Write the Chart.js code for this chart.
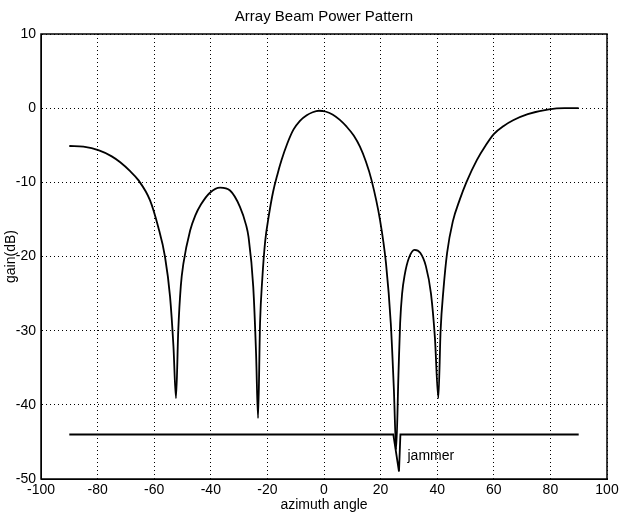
<!DOCTYPE html>
<html>
<head>
<meta charset="utf-8">
<script src="https://cdn.jsdelivr.net/npm/chart.js@4.4.0/dist/chart.umd.min.js"></script>
<style>
  html, body { margin: 0; padding: 0; background: #fff; }
  #wrap { width: 624px; height: 517px; }
</style>
</head>
<body>
<div id="wrap"><canvas id="chart-line"></canvas></div>
<script>
// azimuth angle (deg) and gain (dB)
const angles = [
  -90, -85, -79.5, -75, -72, -68.5, -65.6, -61.5, -58.6, -56.2, -54.4, -53.2, -52.3,
  -51.5, -50.6, -49.7, -47.3, -45.5, -43.5, -40.3, -36.7, -33.2, -29.7, -27.5, -26.7,
  -25.0, -24.0, -23.3, -22.6, -21.8, -20.8, -19.5, -18.0, -16.5, -15, -13, -10.8,
  -8.5, -6.1, -4, -1.8, 0.5, 3, 5.5, 8.0, 10.5, 12.7, 14.8, 16.8, 19.8, 21.9, 23.6, 24.7, 25.5,
  26.3, 26.9, 27.6, 28.5, 30, 32, 34, 36, 37.8, 39.2, 40.4, 41.2, 42.2, 43.5, 45.5,
  48, 50.3, 54, 57, 60, 63.5, 67, 72, 79.5, 85, 90,
];
const gains = [
  -5.1, -5.2, -5.7, -6.5, -7.3, -8.5, -9.7, -12.4, -16.0, -20.0, -25.4, -32.1, -39.1,
  -30, -24, -21, -16.5, -14.5, -13.0, -11.4, -10.7, -11.1, -13.3, -15.8, -17.3,
  -24.1, -33.1, -41.8, -29, -23, -18.0, -14.5, -11.3, -9.0, -7.0, -4.8, -2.9,
  -1.7, -0.95, -0.55, -0.35, -0.45, -0.85, -1.55, -2.5, -3.7, -5.2, -7.2, -9.7, -15.1, -20.9, -29.0, -38.0, -46,
  -36, -29, -25, -22.5, -20.2, -19.1, -19.5, -21.3, -25, -31, -39.1, -30, -24.5, -19.5, -15.3,
  -12.3, -10, -7.0, -5.1, -3.5, -2.4, -1.6, -0.8, -0.15, 0, 0,
];

// jammer marker line
const jamAngles = [-90, 24.5, 26.5, 27, 90];
const jamGains = [-44, -44, -49, -44, -44];

const xTicks = [-100, -80, -60, -40, -20, 0, 20, 40, 60, 80, 100];
const yTicks = [10, 0, -10, -20, -30, -40, -50];

const FONT = '"Liberation Sans", Arial, Helvetica, sans-serif';

const boxAndLabel = {
  id: 'boxAndLabel',
  afterDraw(chart) {
    const { ctx, chartArea: a, scales } = chart;
    ctx.save();
    ctx.strokeStyle = '#000';
    ctx.lineWidth = 1.5;
    ctx.strokeRect(a.left, a.top, a.right - a.left, a.bottom - a.top);
    ctx.fillStyle = '#000';
    ctx.textBaseline = 'middle';
    ctx.font = '14px ' + FONT;
    ctx.fillText('jammer', scales.x.getPixelForValue(29.5), scales.y.getPixelForValue(-46.9));
    // title centred over the axes box
    ctx.font = '15px ' + FONT;
    ctx.textAlign = 'center';
    ctx.fillText('Array Beam Power Pattern', (a.left + a.right) / 2, 17);
    ctx.restore();
  },
};

new Chart(document.getElementById('chart-line').getContext('2d'), {
  type: 'line',
  data: {
    datasets: [
      {
        label: 'pattern',
        data: angles.map((a, i) => ({ x: a, y: gains[i] })),
        borderColor: '#000',
        borderWidth: 1.8,
        pointRadius: 0,
        cubicInterpolationMode: 'monotone',
      },
      {
        label: 'jammer',
        data: jamAngles.map((a, i) => ({ x: a, y: jamGains[i] })),
        borderColor: '#000',
        borderWidth: 1.8,
        pointRadius: 0,
        tension: 0,
      },
    ],
  },
  options: {
    responsive: true,
    maintainAspectRatio: false,
    animation: false,
    layout: { padding: { left: 0, right: 17, top: 34, bottom: 0 } },
    plugins: {
      legend: { display: false },
      tooltip: { enabled: false },
      title: { display: false },
    },
    scales: {
      x: {
        type: 'linear',
        min: -100,
        max: 100,
        afterBuildTicks: (s) => { s.ticks = xTicks.map((v) => ({ value: v })); },
        afterFit: (s) => { s.height = 38; },
        ticks: { color: '#000', font: { family: FONT, size: 14 }, padding: 3, maxRotation: 0 },
        grid: { color: '#000', lineWidth: 1, tickLength: 0, borderDash: [1, 3] },
        border: { display: true, color: '#000', dash: [1, 3] },
        title: { display: true, text: 'azimuth angle', color: '#000', font: { family: FONT, size: 14 }, padding: { top: 0, bottom: 3 } },
      },
      y: {
        type: 'linear',
        min: -50,
        max: 10,
        afterBuildTicks: (s) => { s.ticks = yTicks.map((v) => ({ value: v })); },
        afterFit: (s) => { s.width = 41; },
        ticks: { color: '#000', font: { family: FONT, size: 14 }, padding: 5 },
        grid: { color: '#000', lineWidth: 1, tickLength: 0, borderDash: [1, 3] },
        border: { display: true, color: '#000', dash: [1, 3] },
        title: { display: true, text: 'gain(dB)', color: '#000', font: { family: FONT, size: 14 }, padding: { top: 3, bottom: 0 } },
      },
    },
  },
  plugins: [boxAndLabel],
});
</script>
</body>
</html>
